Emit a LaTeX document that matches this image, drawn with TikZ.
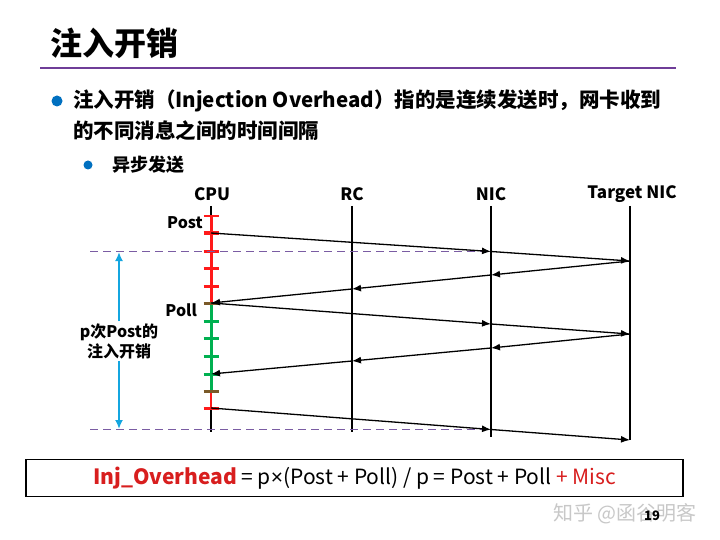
\documentclass[tikz,border=0pt]{standalone}
\usepackage{fontspec}
\setmainfont{Noto Sans CJK SC}
\newfontfamily\symfont{Liberation Sans}
\usepackage{tikz}
\usepackage{xcolor}
\usetikzlibrary{arrows.meta,positioning}
\definecolor{slidepurple}{HTML}{6F3D98}
\definecolor{guidepurple}{HTML}{7A5CA3}
\definecolor{bulletblue}{HTML}{0070C0}
\definecolor{spancyan}{HTML}{14A6E0}
\definecolor{postred}{HTML}{FF1A1A}
\definecolor{pollgreen}{HTML}{00B050}
\definecolor{mixbrown}{HTML}{7A5A28}
\definecolor{injred}{HTML}{D81E1E}
\definecolor{markgray}{HTML}{C8C8C8}
\tikzset{
  slidetitle/.style={
    font=\fontsize{32}{38}\selectfont\bfseries,
    anchor=west, inner sep=0pt
  },
  bullettext/.style={
    font=\fontsize{#1}{#1}\selectfont\bfseries,
    anchor=west, inner sep=0pt
  },
  bullettext/.default=20.5,
  bulletdot/.style={
    circle, fill=bulletblue, inner sep=0pt, minimum size=#1
  },
  bulletdot/.default=11pt,
  header/.style={
    font=\fontsize{17}{20}\selectfont\bfseries, inner sep=0pt
  },
  lifeline/.style={line width=1.1pt, color=black},
  msg/.style={
    -{Latex[length=9pt,width=7pt]}, line width=1.3pt, color=black
  },
  guide/.style={
    dash pattern=on 8pt off 5pt, line width=1.4pt, color=guidepurple
  },
  cpuseg/.style={line width=#1},
  cpuseg/.default=3pt,
  cputick/.style={line width=3pt, color=#1},
  cputick/.default=postred,
  steplabel/.style={
    font=\fontsize{16}{19}\selectfont\bfseries, anchor=east, inner sep=0pt
  },
  spanarrow/.style={
    -{Latex[length=9pt,width=8pt]}, line width=2pt, color=spancyan
  },
  spanlabel/.style={
    font=\fontsize{16}{20}\selectfont\bfseries, align=center,
    fill=white, inner sep=2pt
  },
  formulabox/.style={
    rectangle, draw=black, line width=1.5pt,
    minimum width=657pt, minimum height=37pt,
    font=\fontsize{21}{25}\selectfont, inner sep=0pt
  },
  watermark/.style={
    font=\fontsize{20}{24}\selectfont, text=markgray, inner sep=0pt
  },
  pagenum/.style={
    font=\fontsize{13}{15}\selectfont\bfseries, inner sep=0pt
  },
}

\begin{document}
\begin{tikzpicture}[x=1pt, y=-1pt]
  \useasboundingbox[fill=white] (0,0) rectangle (720,540);
  % Title
  \node[slidetitle] (title) at (50,43) {注入开销};
  \coordinate (rule-l) at (40,68);
  \coordinate (rule-r) at (676,68);
  \draw[slidepurple, line width=2.2pt] (rule-l) -- (rule-r);
  % Bullets
  \node[bulletdot] (dot1) at (57,101) {};
  \node[bullettext] (line1) at (73,101) {注入开销（Injection Overhead）指的是连续发送时，网卡收到};
  \node[bullettext] (line2) at (73,131) {的不同消息之间的时间间隔};
  \node[bulletdot=9pt] (dot2) at (88,165) {};
  \node[bullettext=18] (async) at (112,165) {异步发送};
  % Lifelines
  \node[header] (cpu) at (212,194) {CPU};
  \node[header] (rc) at (352,194) {RC};
  \node[header] (nic) at (491,194) {NIC};
  \node[header] (tgt) at (632,194) {Target NIC};
  \coordinate (cpu-top) at (211,206);
  \coordinate (cpu-bot) at (211,432);
  \coordinate (rc-top) at (352,206);
  \coordinate (rc-bot) at (352,432);
  \coordinate (nic-top) at (491,206);
  \coordinate (nic-bot) at (491,437);
  \coordinate (tgt-top) at (630,206);
  \coordinate (tgt-bot) at (630,440);
  \draw[lifeline] (cpu-top) -- (cpu-bot);
  \draw[lifeline] (rc-top) -- (rc-bot);
  \draw[lifeline] (nic-top) -- (nic-bot);
  \draw[lifeline] (tgt-top) -- (tgt-bot);
  % CPU busy time
  \coordinate (post-start) at (211,216);
  \coordinate (poll-start) at (211,303);
  \coordinate (poll-end) at (211,391);
  \coordinate (post-next) at (211,408);
  \draw[cpuseg, postred] (post-start) -- (poll-start);
  \draw[cpuseg, pollgreen] (poll-start) -- (poll-end);
  \draw[cpuseg=1.5pt, postred] (poll-end) -- (post-next);
  \draw[cputick, line width=1.3pt] (203.5,216) -- (218.5,216);
  \foreach \ty in {233,251,268,286,408}
    \draw[cputick] (203.5,\ty) -- (218.5,\ty);
  \foreach \ty in {321,338,356,374}
    \draw[cputick=pollgreen] (203.5,\ty) -- (218.5,\ty);
  \foreach \ty in {303,391}
    \draw[cputick=mixbrown] (203.5,\ty) -- (218.5,\ty);
  \node[steplabel] (post) at (203,223) {Post};
  \node[steplabel] (poll) at (197,310) {Poll};
  % Guides
  \coordinate (guide-top) at (90,251.5);
  \coordinate (guide-bot) at (90,429.5);
  \coordinate (nic-p1) at (491,251.5);
  \coordinate (nic-p3) at (491,429.5);
  \draw[guide] (guide-top) -- (nic-p1);
  \draw[guide] (guide-bot) -- (nic-p3);
  % Messages
  \coordinate (cpu-p1) at (211,233);
  \coordinate (tgt-p1) at (630,261);
  \coordinate (nic-c1) at (491,275);
  \coordinate (rc-c1) at (352,289);
  \draw[msg] (cpu-p1) -- (nic-p1);
  \draw[msg] (nic-p1) -- (tgt-p1);
  \draw[msg] (tgt-p1) -- (nic-c1);
  \draw[msg] (nic-c1) -- (rc-c1);
  \draw[msg] (rc-c1) -- (poll-start);
  \coordinate (nic-p2) at (491,324);
  \coordinate (tgt-p2) at (630,334);
  \coordinate (nic-c2) at (491,348);
  \coordinate (rc-c2) at (352,361);
  \coordinate (cpu-c2) at (211,374);
  \draw[msg] (poll-start) -- (nic-p2);
  \draw[msg] (nic-p2) -- (tgt-p2);
  \draw[msg] (tgt-p2) -- (nic-c2);
  \draw[msg] (nic-c2) -- (rc-c2);
  \draw[msg] (rc-c2) -- (cpu-c2);
  \coordinate (tgt-p3) at (630,440);
  \draw[msg] (post-next) -- (nic-p3);
  \draw[msg] (nic-p3) -- (tgt-p3);
  % Span of p posts
  \node[spanlabel] (span) at (119,341) {p次Post的\\注入开销};
  \coordinate (span-top) at (119,252);
  \coordinate (span-bot) at (119,429);
  \draw[spanarrow] (span.north) -- (span-top);
  \draw[spanarrow] (span.south) -- (span-bot);
  % Formula
  \node[formulabox] (formula) at (354.5,478)
    {\textcolor{injred}{\bfseries Inj\_Overhead} = p{\symfont ×}(Post + Poll) / p = Post + Poll \textcolor{injred}{+ Misc}};
  \node[watermark] (zhihu) at (625,514) {知乎 @函谷明客};
  \node[pagenum] (page) at (652,516) {19};
\end{tikzpicture}
\end{document}
